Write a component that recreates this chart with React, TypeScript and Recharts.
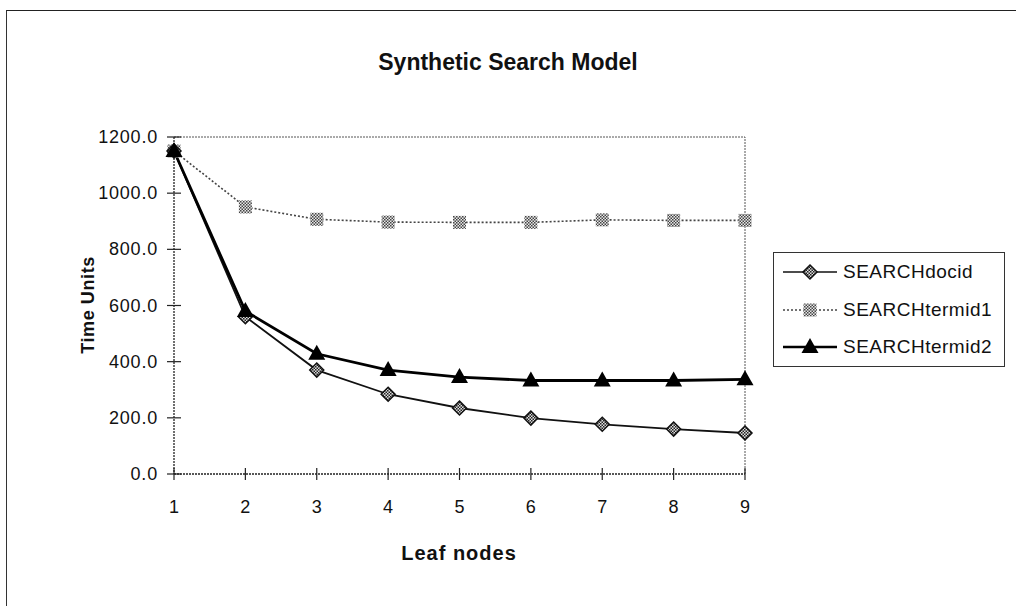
import { LineChart, Line, XAxis, YAxis, ReferenceLine } from 'recharts';

const leafNodes = [1, 2, 3, 4, 5, 6, 7, 8, 9];
const searchDocid = [1150, 560, 370, 284, 235, 199, 177, 160, 146];
const searchTermid1 = [1150, 951, 907, 897, 896, 896, 905, 903, 903];
const searchTermid2 = [1150, 580, 428, 370, 345, 333, 333, 333, 337];
const yTicks = [0, 200, 400, 600, 800, 1000, 1200];

const data = leafNodes.map((x, i) => ({
  x,
  docid: searchDocid[i],
  termid1: searchTermid1[i],
  termid2: searchTermid2[i],
}));

const FONT = '"Liberation Sans", Arial, sans-serif';

function DiamondDot({ cx, cy }: any) {
  if (cx == null || cy == null) return null;
  const r = 7;
  return (
    <polygon
      points={`${cx},${cy - r} ${cx + r},${cy} ${cx},${cy + r} ${cx - r},${cy}`}
      fill="url(#checkDark)" stroke="#111" strokeWidth={1.5}
    />
  );
}

function SquareDot({ cx, cy }: any) {
  if (cx == null || cy == null) return null;
  return <rect x={cx - 6.5} y={cy - 6.5} width={13} height={13} fill="url(#checkLight)" />;
}

function TriangleDot({ cx, cy }: any) {
  if (cx == null || cy == null) return null;
  return (
    <polygon points={`${cx},${cy - 9} ${cx + 8.5},${cy + 6} ${cx - 8.5},${cy + 6}`} fill="#000" />
  );
}

function YTick({ x, y, payload }: any) {
  return (
    <g>
      <line x1={x + 5} x2={x + 19} y1={y} y2={y} stroke="#222" strokeWidth={1.2} />
      <text x={x - 4} y={y} textAnchor="end" dominantBaseline="central" fontSize={18} letterSpacing={0.8} fontFamily={FONT} fill="#111">
        {Number(payload.value).toFixed(1)}
      </text>
    </g>
  );
}

function XTick({ x, y, payload }: any) {
  return (
    <g>
      <line x1={x} x2={x} y1={y - 18} y2={y - 6} stroke="#222" strokeWidth={1.2} />
      <text x={x} y={y + 21} textAnchor="middle" dominantBaseline="central" fontSize={18} fontFamily={FONT} fill="#111">
        {payload.value}
      </text>
    </g>
  );
}

function LegendRow({ kind, label }: { kind: 'docid' | 'termid1' | 'termid2'; label: string }) {
  return (
    <div style={{ display: 'flex', alignItems: 'center', height: 38 }}>
      <svg width={60} height={20} style={{ flexShrink: 0 }}>
        {kind === 'docid' && <line x1={3} x2={57} y1={10} y2={10} stroke="#111" strokeWidth={1.5} />}
        {kind === 'termid1' && <line x1={3} x2={57} y1={10} y2={10} stroke="#444" strokeWidth={1.5} strokeDasharray="2 2" />}
        {kind === 'termid2' && <line x1={3} x2={57} y1={10} y2={10} stroke="#000" strokeWidth={2.5} />}
        {kind === 'docid' && <DiamondDot cx={30} cy={10} />}
        {kind === 'termid1' && <SquareDot cx={30} cy={10} />}
        {kind === 'termid2' && <TriangleDot cx={30} cy={10} />}
      </svg>
      <span style={{ fontFamily: FONT, fontSize: 19, letterSpacing: 0.5, color: '#111', marginLeft: 3, whiteSpace: 'nowrap' }}>{label}</span>
    </div>
  );
}

export default function App() {
  return (
    <div style={{ position: 'absolute', left: 0, top: 0, width: 1016, height: 606, background: '#fff', overflow: 'hidden' }}>
      <svg width={0} height={0} style={{ position: 'absolute' }}>
        <defs>
          <pattern id="checkDark" width={3} height={3} patternUnits="userSpaceOnUse">
            <rect width={3} height={3} fill="#ddd" />
            <rect width={1.5} height={1.5} fill="#222" />
            <rect x={1.5} y={1.5} width={1.5} height={1.5} fill="#222" />
          </pattern>
          <pattern id="checkLight" width={3} height={3} patternUnits="userSpaceOnUse">
            <rect width={3} height={3} fill="#e8e8e8" />
            <rect width={1.5} height={1.5} fill="#444" />
            <rect x={1.5} y={1.5} width={1.5} height={1.5} fill="#444" />
          </pattern>
        </defs>
      </svg>

      {/* outer frame */}
      <div style={{ position: 'absolute', left: 6, top: 10, width: 1012, height: 600, borderTop: '1.5px solid #222', borderLeft: '1.5px solid #333' }} />

      <div style={{ position: 'absolute', left: 0, top: 49, width: 1016, textAlign: 'center', fontFamily: FONT, fontWeight: 700, fontSize: 23, color: '#111' }}>
        Synthetic Search Model
      </div>

      <div style={{ position: 'absolute', left: 88, top: 305, transform: 'translate(-50%, -50%) rotate(-90deg)', fontFamily: FONT, fontWeight: 700, fontSize: 18, letterSpacing: 0.6, color: '#111', whiteSpace: 'nowrap' }}>
        Time Units
      </div>

      <div style={{ position: 'absolute', left: 459, top: 553, transform: 'translate(-50%, -50%)', fontFamily: FONT, fontWeight: 700, fontSize: 20, letterSpacing: 1, color: '#111', whiteSpace: 'nowrap' }}>
        Leaf nodes
      </div>

      <div style={{ position: 'absolute', left: 0, top: 0 }}>
        <LineChart width={1016} height={606} data={data} margin={{ top: 137, right: 271, bottom: 72, left: 114 }}>
          <XAxis
            dataKey="x" type="number" domain={[1, 9]} ticks={leafNodes}
            axisLine={{ stroke: '#222', strokeDasharray: '2 1', strokeWidth: 1.3 }}
            tickLine={false} tickSize={12} tickMargin={0} tick={<XTick />}
            height={60}
          />
          <YAxis
            type="number" domain={[0, 1200]} ticks={yTicks}
            axisLine={{ stroke: '#222', strokeDasharray: '2 1', strokeWidth: 1.3 }}
            tickLine={false} tickSize={8} tickMargin={4} tick={<YTick />}
            width={60}
          />
          <ReferenceLine y={1200} stroke="#555" strokeDasharray="2 1" />
          <ReferenceLine x={9} stroke="#555" strokeDasharray="2 1" />
          <Line dataKey="termid1" stroke="#444" strokeWidth={1.6} strokeDasharray="2 2" dot={<SquareDot />} activeDot={false} isAnimationActive={false} />
          <Line dataKey="docid" stroke="#111" strokeWidth={1.8} dot={<DiamondDot />} activeDot={false} isAnimationActive={false} />
          <Line dataKey="termid2" stroke="#000" strokeWidth={2.8} dot={<TriangleDot />} activeDot={false} isAnimationActive={false} />
        </LineChart>
      </div>

      {/* legend */}
      <div style={{ position: 'absolute', left: 773, top: 252, width: 232, height: 115, border: '1.5px solid #333', paddingLeft: 6, boxSizing: 'border-box', display: 'flex', flexDirection: 'column', justifyContent: 'center' }}>
        <LegendRow kind="docid" label="SEARCHdocid" />
        <LegendRow kind="termid1" label="SEARCHtermid1" />
        <LegendRow kind="termid2" label="SEARCHtermid2" />
      </div>
    </div>
  );
}
